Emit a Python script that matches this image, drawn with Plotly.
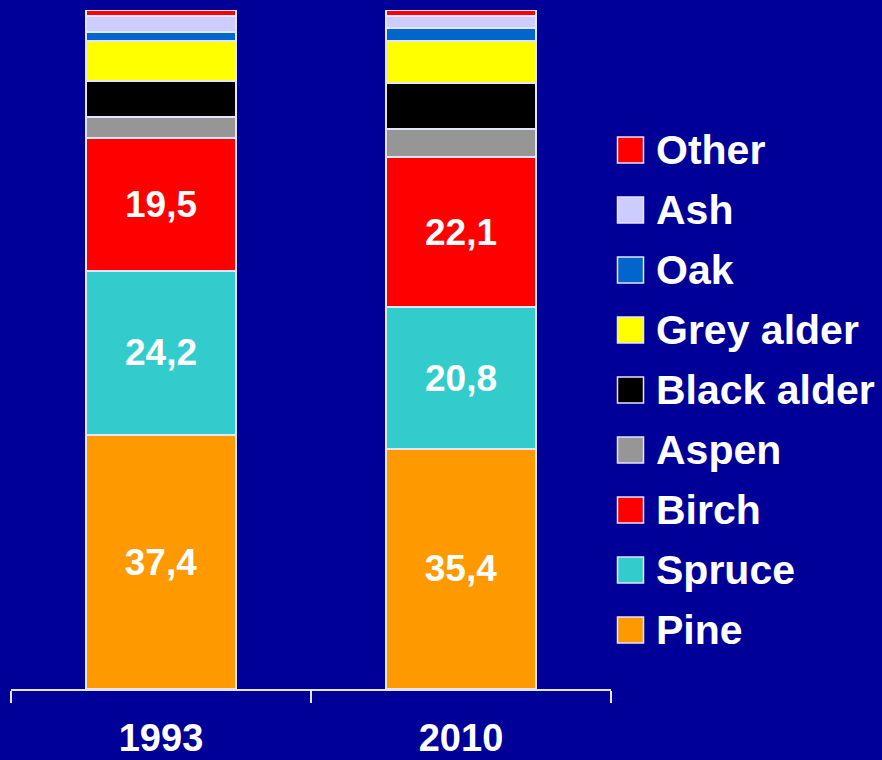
import plotly.graph_objects as go

years = ["1993", "2010"]
species = ["Pine", "Spruce", "Birch", "Aspen", "Black alder", "Grey alder", "Oak", "Ash", "Other"]
pine = [37.4, 35.4]
spruce = [24.2, 20.8]
birch = [19.5, 22.1]
aspen = [3.1, 4.2]
black_alder = [5.4, 6.7]
grey_alder = [5.8, 6.2]
oak = [1.4, 1.9]
ash = [2.3, 1.8]
other = [0.9, 0.9]
labelled = ["Pine", "Spruce", "Birch"]

values = {
    "Pine": pine, "Spruce": spruce, "Birch": birch, "Aspen": aspen,
    "Black alder": black_alder, "Grey alder": grey_alder, "Oak": oak,
    "Ash": ash, "Other": other,
}
colors = {
    "Pine": "#FF9900", "Spruce": "#33CCCC", "Birch": "#FF0000", "Aspen": "#969696",
    "Black alder": "#000000", "Grey alder": "#FFFF00", "Oak": "#0066CC",
    "Ash": "#CCCCFF", "Other": "#FF0000",
}

BG = "#000099"
LINE = "#e4e4fa"
FONT = "Liberation Sans"

W, H = 882, 760
ML, MR, MT, MB = 11, 271, 10, 71

fig = go.Figure()
for name in species:
    vals = values[name]
    txt = [f"{v:.1f}".replace(".", ",") if name in labelled else "" for v in vals]
    fig.add_trace(go.Bar(
        x=years, y=vals, name=name,
        marker=dict(color=colors[name], line=dict(color=LINE, width=2)),
        text=txt, texttemplate="%{text}", textposition="inside",
        insidetextanchor="middle", textangle=0, constraintext="none",
        textfont=dict(family=FONT, size=37, color="white", weight="bold"),
        hoverinfo="x+y+name", showlegend=False,
    ))

# custom legend (top to bottom: reverse of stacking order)
pw = W - ML - MR
ph = H - MT - MB
def px2x(px):
    return (px - ML) / pw
def py2y(py):
    return (H - MB - py) / ph

shapes = []
annotations = []
for i, name in enumerate(reversed(species)):
    cy = 150 + 60 * i
    shapes.append(dict(
        type="rect", xref="paper", yref="paper",
        x0=px2x(617.5), x1=px2x(643.5), y0=py2y(cy + 13), y1=py2y(cy - 13),
        fillcolor=colors[name], line=dict(color=LINE, width=1.5),
    ))
    annotations.append(dict(
        xref="paper", yref="paper", x=px2x(654), y=py2y(cy),
        xanchor="left", yanchor="middle", showarrow=False, text=name,
        font=dict(family=FONT, size=41, color="white", weight="bold"),
    ))

fig.update_layout(
    width=W, height=H,
    margin=dict(l=ML, r=MR, t=MT, b=MB, pad=0, autoexpand=False),
    paper_bgcolor=BG, plot_bgcolor=BG,
    barmode="stack", bargap=0.5,
    shapes=shapes, annotations=annotations,
    xaxis=dict(
        type="category", range=[-0.5, 1.5], tickson="boundaries",
        automargin=False,
        showline=True, linecolor=LINE, linewidth=2,
        ticks="outside", ticklen=12, tickwidth=2, tickcolor=LINE,
        ticklabelstandoff=14,
        tickfont=dict(family=FONT, size=38, color="white", weight="bold"),
        showgrid=False, zeroline=False,
    ),
    yaxis=dict(range=[0, 100], visible=False, showgrid=False, zeroline=False,
               automargin=False),
)

fig.write_html("out.html")
